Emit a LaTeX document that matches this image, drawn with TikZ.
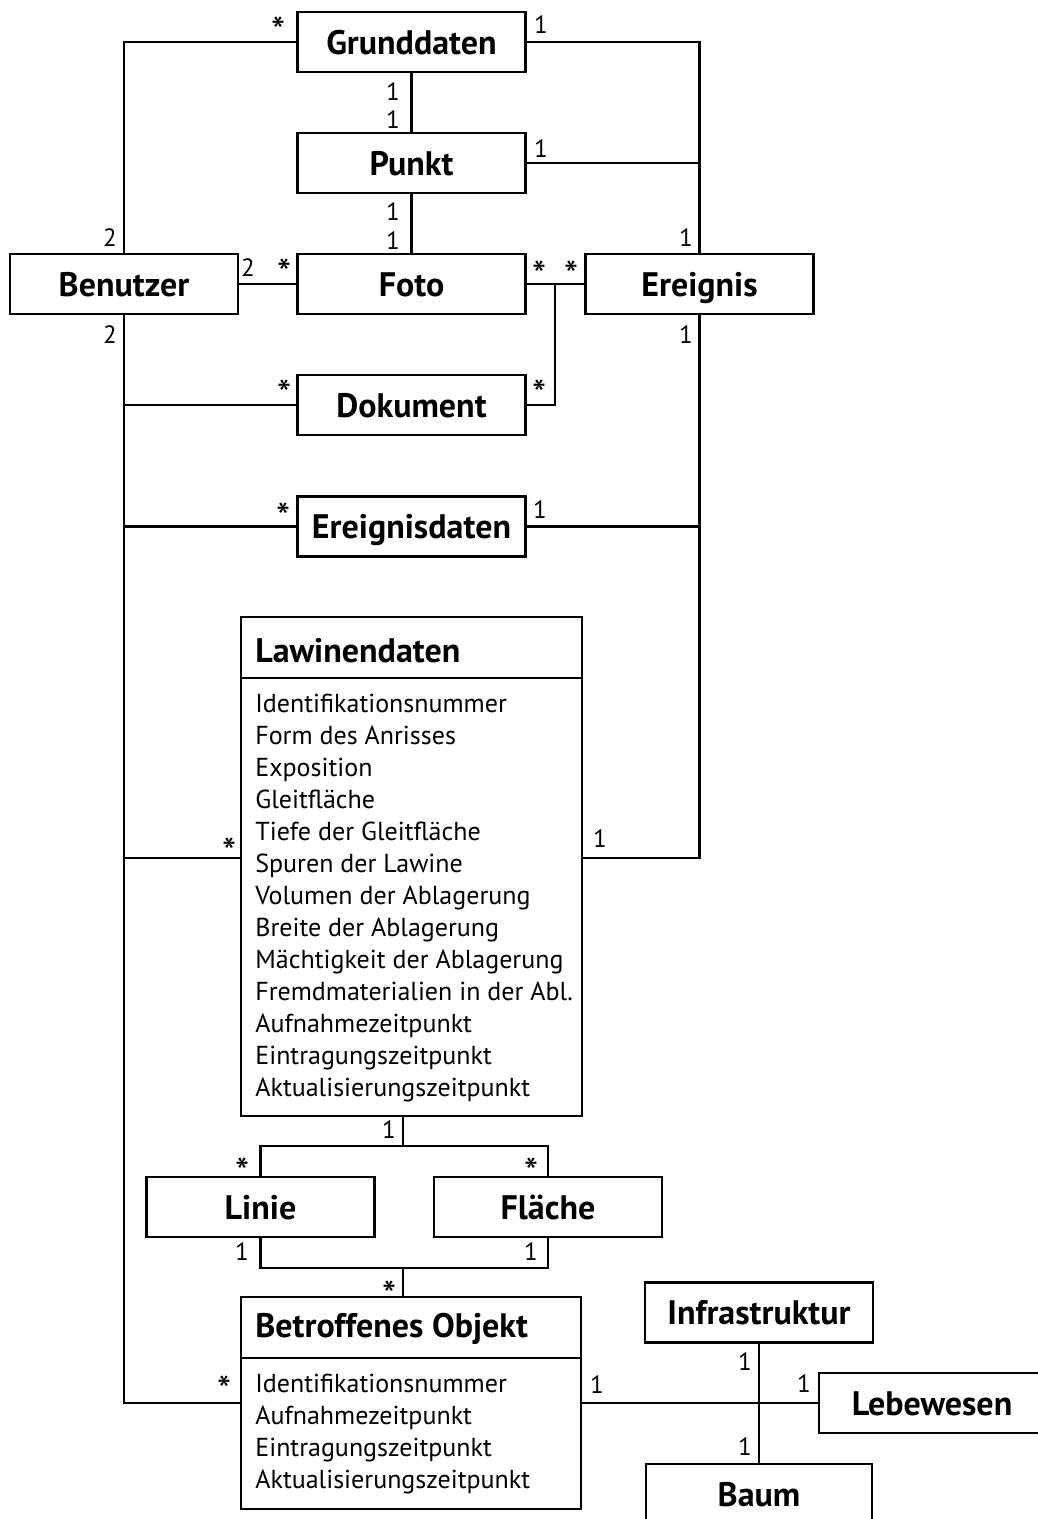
\documentclass[tikz,border=0pt]{standalone}
\usepackage{fontspec}
\setmainfont{PT Sans}
\usetikzlibrary{calc}
\begin{document}
\begin{tikzpicture}[x=1pt,y=-1pt,
  line width=2.7pt, line join=miter,
  cls/.style={draw, line width=2.7pt, inner sep=0pt, minimum width=228pt, minimum height=60pt,
    font=\fontsize{34}{40}\selectfont\bfseries, text height=24pt, text depth=0pt},
  bigcls/.style={draw, line width=2.7pt, inner sep=0pt},
  mult/.style={anchor=base, inner sep=0pt, font=\fontsize{25}{30}\selectfont},
  star/.style={anchor=north, inner sep=0pt, text depth=-12pt, font=\fontsize{40}{44}\selectfont},
  attr/.style={anchor=base west, inner sep=0pt, font=\fontsize{26}{32}\selectfont},
  ttl/.style={anchor=base west, inner sep=0pt, font=\fontsize{34}{40}\selectfont\bfseries}]
\useasboundingbox (0,0) rectangle (1038,1519);

% classes
\node[cls] (grund) at (411.5,42) {Grunddaten};
\node[cls] (punkt) at (411.5,163) {Punkt};
\node[cls] (foto) at (411.5,284) {Foto};
\node[cls] (ben) at (124,284) {Benutzer};
\node[cls] (ereig) at (699.5,284) {Ereignis};
\node[cls] (dok) at (411.5,405) {Dokument};
\node[cls] (ed) at (411.5,526.5) {Ereignisdaten};
\node[cls] (lin) at (260.5,1207) {Linie};
\node[cls] (fl) at (548,1207) {Fläche};
\node[cls] (infra) at (759,1312.5) {Infrastruktur};
\node[cls, minimum width=226pt] (leb) at (932,1403) {Lebewesen};
\node[cls, minimum width=226pt] (baum) at (759,1494) {Baum};

% Lawinendaten with attribute compartment
\node[bigcls, minimum width=341pt, minimum height=499pt] (law) at (411.5,866.5) {};
\draw (law.west |- 0,678) -- (law.east |- 0,678);
\node[ttl] (lawttl) at (254,662) {Lawinendaten};
\foreach \t [count=\i from 0] in {Identifikationsnummer, Form des Anrisses, Exposition,
  Gleitfläche, Tiefe der Gleitfläche, Spuren der Lawine, Volumen der Ablagerung,
  Breite der Ablagerung, Mächtigkeit der Ablagerung, Fremdmaterialien in der Abl.,
  Aufnahmezeitpunkt, Eintragungszeitpunkt, Aktualisierungszeitpunkt}
  \node[attr] (lawa\i) at (254,712+32*\i) {\t};

% Betroffenes Objekt with attribute compartment
\node[bigcls, minimum width=340pt, minimum height=212pt] (bo) at (411,1403) {};
\draw (bo.west |- 0,1358) -- (bo.east |- 0,1358);
\node[ttl] (bottl) at (254,1337) {Betroffenes Objekt};
\foreach \t [count=\i from 0] in {Identifikationsnummer, Aufnahmezeitpunkt,
  Eintragungszeitpunkt, Aktualisierungszeitpunkt}
  \node[attr] (boa\i) at (254,1392+32*\i) {\t};

% helper points
\coordinate (fj) at (555,284);
\coordinate (lawy) at (0,858);
\coordinate (brtop) at (403,1146);
\coordinate (brbot) at (403,1268);

% connectors
\draw (ben.north) |- (grund.west);
\draw (grund.south) -- (punkt.north);
\draw (punkt.south) -- (foto.north);
\draw (ben.east) -- (foto.west);
\draw (grund.east) -| (ereig.north);
\draw (punkt.east) -- (punkt.east -| ereig.north);
\draw (foto.east) -- (ereig.west);
\draw (dok.east) -| (fj);
\draw (ben.south) |- (bo.west);
\draw (dok.west) -- (dok.west -| ben.south);
\draw (ed.west) -- (ed.west -| ben.south);
\draw (ed.east) -- (ed.east -| ereig.south);
\draw (ereig.south) |- (law.east |- lawy);
\draw (law.west |- lawy) -- (ben.south |- lawy);
\draw (law.south -| brtop) -- (brtop);
\draw (lin.north) |- (fl.north |- brtop) -- (fl.north);
\draw (lin.south) |- (fl.south |- brbot) -- (fl.south);
\draw (brbot) -- (bo.north -| brbot);
\draw (bo.east) -- (leb.west);
\draw (infra.south) -- (baum.north);

% multiplicities
\node[star] (m1) at (279,16) {*};
\node[mult] (m2) at (541,33) {1};
\node[mult] (m3) at (393,100) {1};
\node[mult] (m4) at (393,128) {1};
\node[mult] (m5) at (541,157) {1};
\node[mult] (m6) at (393,220) {1};
\node[mult] (m7) at (393,249) {1};
\node[mult] (m8) at (110,246) {2};
\node[mult] (m9) at (686,246) {1};
\node[mult] (m10) at (248,276) {2};
\node[star] (m11) at (285,258) {*};
\node[star] (m12) at (540,260) {*};
\node[star] (m13) at (572,260) {*};
\node[mult] (m14) at (110,343) {2};
\node[mult] (m15) at (686,343) {1};
\node[star] (m16) at (285,379) {*};
\node[star] (m17) at (540,379) {*};
\node[star] (m18) at (284,502) {*};
\node[mult] (m19) at (540,518) {1};
\node[star] (m20) at (230,837) {*};
\node[mult] (m21) at (600,847) {1};
\node[mult] (m22) at (389,1138) {1};
\node[star] (m23) at (243,1157) {*};
\node[star] (m24) at (532,1157) {*};
\node[mult] (m25) at (242,1260) {1};
\node[mult] (m26) at (531,1260) {1};
\node[star] (m27) at (390,1280) {*};
\node[star] (m28) at (225,1375) {*};
\node[mult] (m29) at (597,1393) {1};
\node[mult] (m30) at (745,1370) {1};
\node[mult] (m31) at (804,1392) {1};
\node[mult] (m32) at (745,1455) {1};
\end{tikzpicture}
\end{document}
